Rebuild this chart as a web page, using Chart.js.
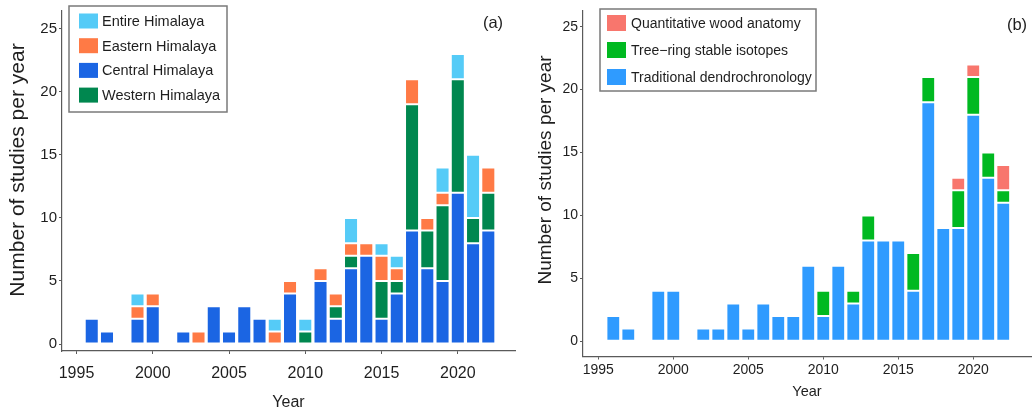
<!DOCTYPE html>
<html>
<head>
<meta charset="utf-8">
<script src="https://cdn.jsdelivr.net/npm/chart.js@4/dist/chart.umd.min.js"></script>
<style>
  html, body { margin: 0; padding: 0; background: #fff; }
  body { width: 1032px; height: 409px; position: relative; overflow: hidden; }
  .panel { position: absolute; top: 0; }
  #wrapA { left: 0; width: 520px; height: 409px; }
  #wrapB { left: 520px; width: 512px; height: 409px; }
</style>
</head>
<body>
<div class="panel" id="wrapA"><canvas id="chartA" width="520" height="409"></canvas></div>
<div class="panel" id="wrapB"><canvas id="chartB" width="512" height="409"></canvas></div>
<script>
// Publication years
const years = [1996,1997,1998,1999,2000,2001,2002,2003,2004,2005,2006,2007,2008,2009,
               2010,2011,2012,2013,2014,2015,2016,2017,2018,2019,2020,2021,2022];

// (a) studies per year by region
const centralHimalaya = [2,1,0,2,3,0,1,0,3,1,3,2,0,4,0,5,2,6,7,2,4,9,6,5,12,8,9];
const westernHimalaya = [0,0,0,0,0,0,0,0,0,0,0,0,0,0,1,0,1,1,0,3,1,10,3,6,9,2,3];
const easternHimalaya = [0,0,0,1,1,0,0,1,0,0,0,0,1,1,0,1,1,1,1,2,1,2,1,1,0,0,2];
const entireHimalaya  = [0,0,0,1,0,0,0,0,0,0,0,0,1,0,1,0,0,2,0,1,1,0,0,2,2,5,0];

// (b) studies per year by method
const traditionalDendro = [2,1,0,4,4,0,1,1,3,1,3,2,2,6,2,6,3,8,8,8,4,19,9,9,18,13,11];
const stableIsotopes    = [0,0,0,0,0,0,0,0,0,0,0,0,0,0,2,0,1,2,0,0,3,2,0,3,3,2,1];
const woodAnatomy       = [0,0,0,0,0,0,0,0,0,0,0,0,0,0,0,0,0,0,0,0,0,0,0,1,1,0,2];

// Axis ticks
const yearTicks = [1995, 2000, 2005, 2010, 2015, 2020];
const countTicks = [0, 5, 10, 15, 20, 25];

const FONT = "'Liberation Sans', Arial, Helvetica, sans-serif";
const AXIS_COLOR = '#5a5a5a';
const TEXT_COLOR = '#1e1e1e';

function toPoints(values) {
  return years.map((y, i) => ({ x: y, y: values[i] === 0 ? null : values[i] }));
}

function barSet(label, values, color) {
  return {
    label: label,
    data: toPoints(values),
    backgroundColor: color,
    borderColor: 'rgba(255,255,255,0.75)',
    borderWidth: 1,
    borderSkipped: false,
    barPercentage: 0.92,
    categoryPercentage: 1.0
  };
}

// Axis title, boxed legend and panel tag
const panelDecor = {
  id: 'panelDecor',
  afterDraw(chart, args, opts) {
    const ctx = chart.ctx;
    ctx.save();
    // y axis title
    ctx.fillStyle = TEXT_COLOR;
    ctx.font = opts.yTitleSize + 'px ' + FONT;
    ctx.textAlign = 'center';
    ctx.textBaseline = 'middle';
    ctx.translate(opts.yTitleX, opts.yTitleY);
    ctx.rotate(-Math.PI / 2);
    ctx.fillText(opts.yTitle, 0, 0);
    ctx.setTransform(1, 0, 0, 1, 0, 0);

    // legend box
    const b = opts.box;
    ctx.strokeStyle = '#7a7a7a';
    ctx.lineWidth = 1.5;
    ctx.fillStyle = '#ffffff';
    ctx.fillRect(b.x, b.y, b.w, b.h);
    ctx.strokeRect(b.x, b.y, b.w, b.h);
    ctx.font = opts.legendSize + 'px ' + FONT;
    ctx.textAlign = 'left';
    ctx.textBaseline = 'middle';
    opts.order.forEach((idx, row) => {
      const ds = chart.data.datasets[idx];
      const cy = b.firstRow + row * b.rowGap;
      ctx.fillStyle = ds.backgroundColor;
      ctx.fillRect(b.swX, cy - b.swH / 2, b.swW, b.swH);
      ctx.fillStyle = TEXT_COLOR;
      ctx.fillText(ds.label, b.textX, cy + 1);
    });

    // panel tag
    ctx.font = opts.tagSize + 'px ' + FONT;
    ctx.textAlign = 'center';
    ctx.fillStyle = TEXT_COLOR;
    ctx.fillText(opts.tag, opts.tagX, opts.tagY);
    ctx.restore();
  }
};

function makeChart(canvasId, datasets, cfg) {
  return new Chart(document.getElementById(canvasId), {
    type: 'bar',
    data: { datasets: datasets },
    plugins: [panelDecor],
    options: {
      responsive: false,
      animation: false,
      layout: { padding: { top: cfg.padTop, right: cfg.padRight, left: 0, bottom: 0 } },
      plugins: {
        legend: { display: false },
        tooltip: { enabled: false },
        panelDecor: cfg.decor
      },
      scales: {
        x: {
          type: 'linear',
          stacked: true,
          offset: false,
          min: cfg.xMin,
          max: cfg.xMax,
          afterBuildTicks: (axis) => { axis.ticks = yearTicks.map(v => ({ value: v })); },
          afterFit: (scale) => { scale.height = cfg.xHeight; },
          grid: { display: true, offset: false, drawOnChartArea: false, drawTicks: true, tickLength: 3, color: AXIS_COLOR, lineWidth: 1 },
          border: { display: true, color: AXIS_COLOR, width: 1.2 },
          ticks: {
            color: TEXT_COLOR, padding: cfg.xTickPad, maxRotation: 0, autoSkip: false,
            font: { family: FONT, size: cfg.xTickSize },
            callback: (v) => String(v)
          },
          title: {
            display: true, text: 'Year', color: TEXT_COLOR,
            font: { family: FONT, size: cfg.xTitleSize },
            padding: { top: 0, bottom: cfg.xTitlePadBottom }
          }
        },
        y: {
          type: 'linear',
          stacked: true,
          min: cfg.yMin,
          max: cfg.yMax,
          afterBuildTicks: (axis) => { axis.ticks = countTicks.map(v => ({ value: v })); },
          afterFit: (scale) => { scale.width = cfg.yWidth; },
          grid: { display: true, drawOnChartArea: false, drawTicks: true, tickLength: 3, color: AXIS_COLOR, lineWidth: 1 },
          border: { display: true, color: AXIS_COLOR, width: 1.2 },
          ticks: {
            color: TEXT_COLOR, padding: 2,
            font: { family: FONT, size: cfg.yTickSize },
            callback: (v) => String(v)
          },
          title: { display: false }
        }
      }
    }
  });
}

// (a) by region: stacked Central, Western, Eastern, Entire (bottom to top)
makeChart('chartA', [
  barSet('Central Himalaya', centralHimalaya, '#1b65e3'),
  barSet('Western Himalaya', westernHimalaya, '#00874f'),
  barSet('Eastern Himalaya', easternHimalaya, '#ff7a45'),
  barSet('Entire Himalaya', entireHimalaya, '#55cbf7')
], {
  padTop: 5, padRight: 5,
  xMin: 1994.05, xMax: 2023.75, xHeight: 58, xTickPad: 10, xTickSize: 16,
  xTitleSize: 16, xTitlePadBottom: -3,
  yMin: -0.55, yMax: 26.4, yWidth: 62, yTickSize: 15,
  decor: {
    yTitle: 'Number of studies per year', yTitleSize: 21, yTitleX: 18, yTitleY: 170,
    order: [3, 2, 0, 1],
    box: { x: 69, y: 6, w: 158, h: 106, swX: 79, swW: 19, swH: 15, firstRow: 21, rowGap: 24.7, textX: 102 },
    legendSize: 14.5,
    tag: '(a)', tagSize: 16.5, tagX: 493, tagY: 23
  }
});

// (b) by method: stacked Traditional, Isotopes, Wood anatomy (bottom to top)
makeChart('chartB', [
  barSet('Traditional dendrochronology', traditionalDendro, '#2f9bff'),
  barSet('Tree\u2212ring stable isotopes', stableIsotopes, '#00b921'),
  barSet('Quantitative wood anatomy', woodAnatomy, '#f8766d')
], {
  padTop: 7, padRight: 1,
  xMin: 1993.98, xMax: 2023.85, xHeight: 52.5, xTickPad: 2, xTickSize: 14,
  xTitleSize: 14.5, xTitlePadBottom: 8,
  yMin: -1.22, yMax: 26.3, yWidth: 63, yTickSize: 14,
  decor: {
    yTitle: 'Number of studies per year', yTitleSize: 19, yTitleX: 26, yTitleY: 170,
    order: [2, 1, 0],
    box: { x: 80, y: 9, w: 216, h: 82, swX: 87, swW: 19, swH: 16, firstRow: 23, rowGap: 27, textX: 111 },
    legendSize: 14,
    tag: '(b)', tagSize: 16.5, tagX: 497, tagY: 25
  }
});
</script>
</body>
</html>
